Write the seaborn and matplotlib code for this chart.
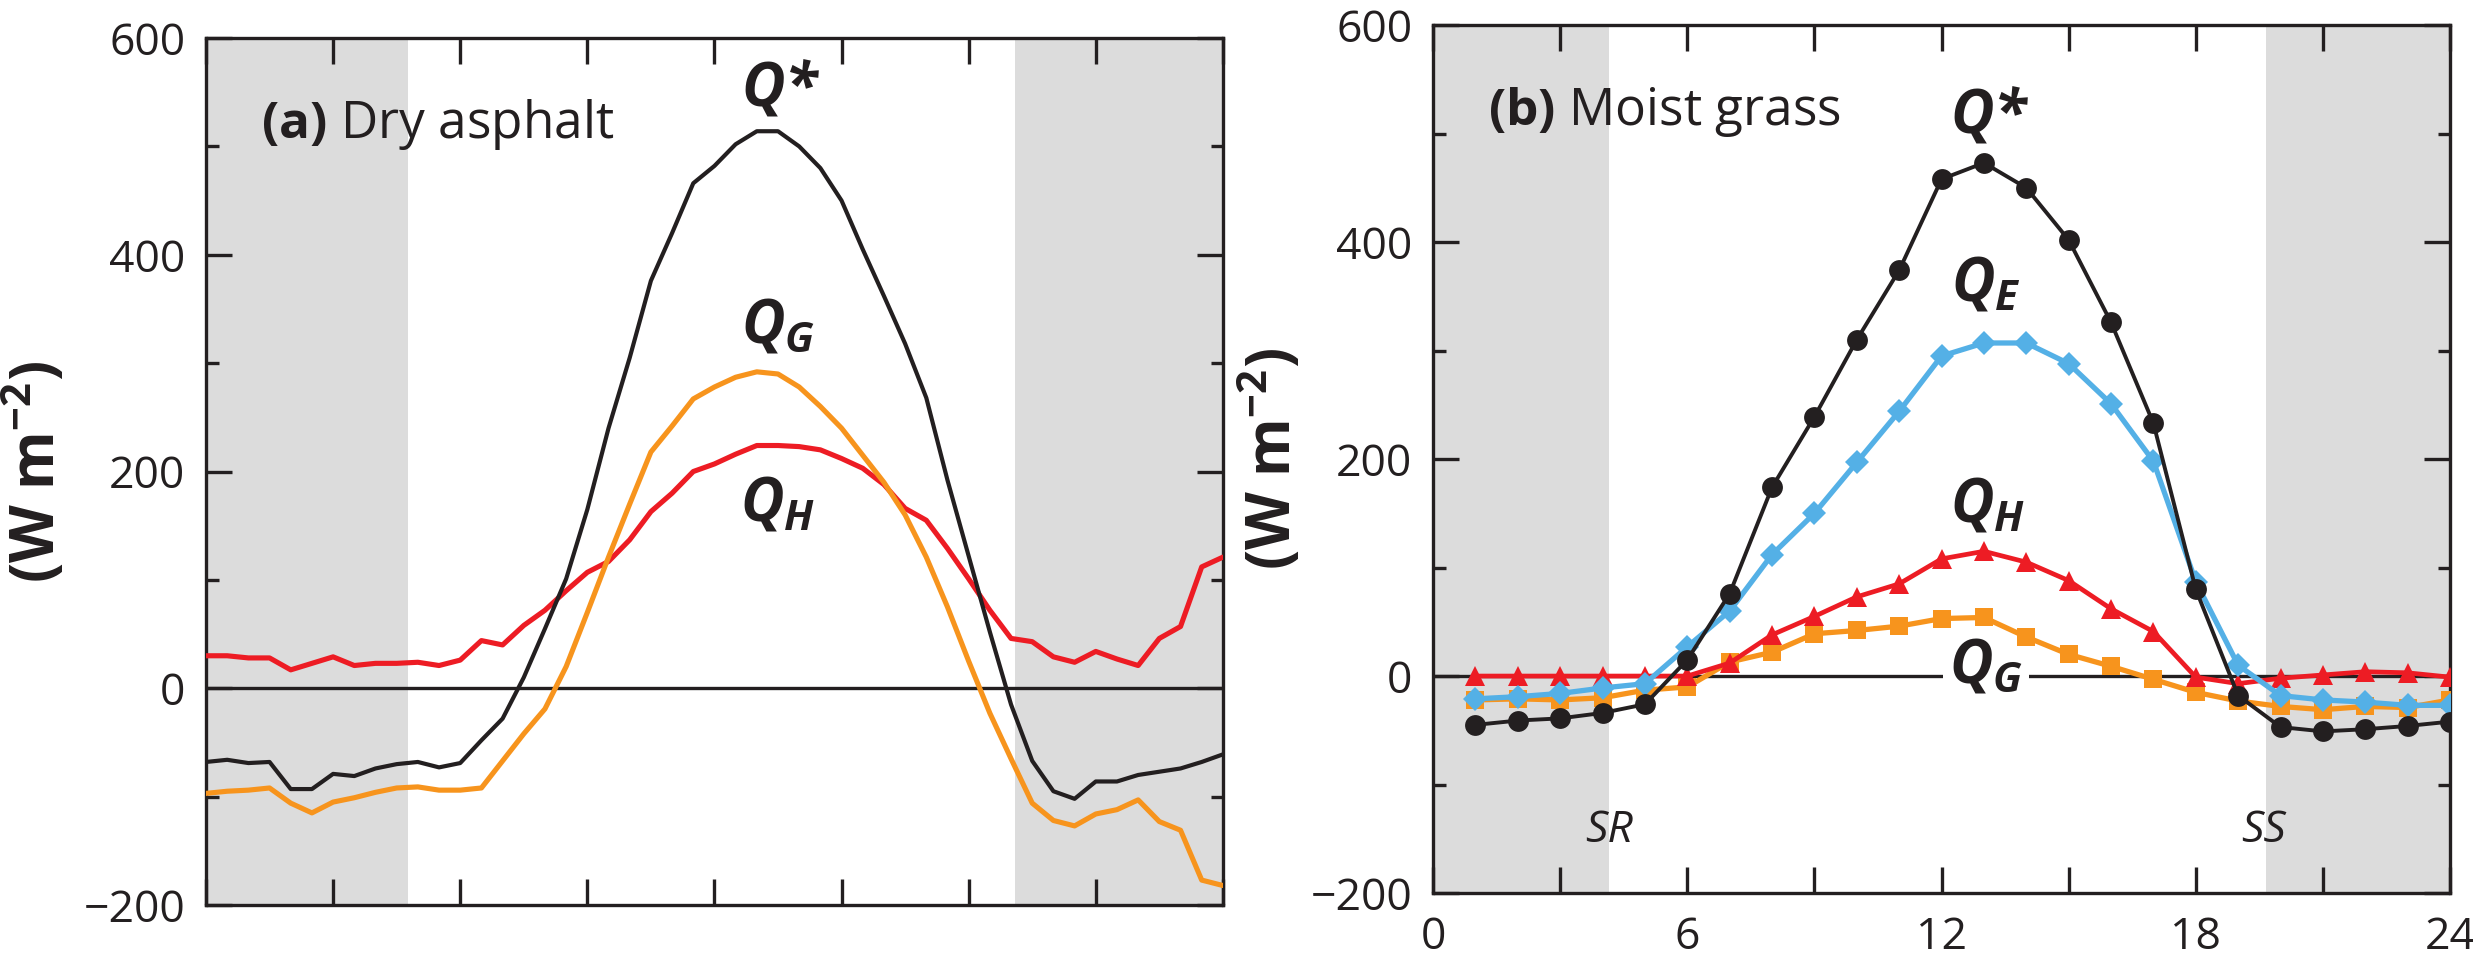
import matplotlib
matplotlib.use("Agg")
import matplotlib.pyplot as plt
import seaborn as sns
from matplotlib.ticker import MultipleLocator

# ---------------- data: panel (a) dry asphalt, half-hourly ----------------
hours_a = [0, 0.5, 1, 1.5, 2, 2.5, 3, 3.5, 4, 4.5, 5, 5.5, 6, 6.5, 7, 7.5, 8, 8.5,
           9, 9.5, 10, 10.5, 11, 11.5, 12, 12.5, 13, 13.5, 14, 14.5, 15, 15.5, 16,
           16.5, 17, 17.5, 18, 18.5, 19, 19.5, 20, 20.5, 21, 21.5, 22, 22.5, 23,
           23.5, 24]
qstar_a = [-68, -66, -69, -68, -93, -93, -79, -81, -74, -70, -68, -73, -69, -48,
           -28, 10, 55, 101, 165, 240, 305, 376, 420, 466, 482, 502, 514, 514,
           500, 480, 450, 405, 362, 318, 268, 192, 122, 52, -15, -67, -95, -102,
           -86, -86, -80, -77, -74, -68, -61]
qg_a = [-97, -95, -94, -92, -106, -115, -105, -101, -96, -92, -91, -94, -94, -92,
        -67, -42, -19, 20, 70, 121, 170, 218, 242, 267, 278, 287, 292, 290, 278,
        260, 240, 215, 190, 160, 121, 75, 25, -23, -65, -106, -122, -127, -116,
        -112, -103, -123, -131, -177, -182]
qh_a = [30, 30, 28, 28, 17, 23, 29, 21, 23, 23, 24, 21, 26, 44, 40, 58, 72, 90,
        107, 117, 137, 163, 180, 200, 207, 216, 224, 224, 223, 220, 212, 203, 188,
        166, 155, 129, 101, 72, 46, 43, 29, 24, 34, 27, 21, 46, 57, 112, 121]
night_a = [(0, 4.77), (19.1, 24)]

# ---------------- data: panel (b) moist grass, hourly ----------------
hours_b = [1, 2, 3, 4, 5, 6, 7, 8, 9, 10, 11, 12, 13, 14, 15, 16, 17, 18, 19, 20,
           21, 22, 23, 24]
qstar_b = [-45, -41, -39, -34, -26, 15, 76, 174, 239, 310, 374, 458, 473, 450,
           402, 326, 233, 80, -18, -47, -51, -49, -46, -42]
qe_b = [-21, -19, -16, -11, -7, 27, 60, 112, 150, 197, 244, 295, 307, 307, 288,
        251, 198, 87, 10, -18, -22, -24, -27, -27]
qh_b = [0, 0, 0, 0, 0, 0, 12, 38, 55, 73, 85, 108, 115, 105, 88, 62, 41, -1, -7,
        -2, 1, 4, 3, -1]
qg_b = [-22, -21, -22, -20, -13, -10, 13, 22, 39, 42, 46, 53, 54, 36, 20, 9, -3,
        -15, -23, -28, -31, -28, -29, -22]
night_b = [(0, 4.15), (19.66, 24)]

xticks = [0, 3, 6, 9, 12, 15, 18, 21, 24]
xticklabels_b = ["0", "", "6", "", "12", "", "18", "", "24"]
yticks = [-200, 0, 200, 400, 600]

BLACK = "#231F20"
RED = "#ED1C24"
ORANGE = "#F7941D"
BLUE = "#54B0E6"
GRAY = "#DCDCDC"

sns.set_style("ticks")
plt.rcParams["font.family"] = ["Open Sans", "DejaVu Sans"]
plt.rcParams["mathtext.fontset"] = "custom"
plt.rcParams["mathtext.rm"] = "Open Sans"
plt.rcParams["mathtext.it"] = "Open Sans:italic:bold"
plt.rcParams["mathtext.bf"] = "Open Sans:bold"
plt.rcParams["axes.unicode_minus"] = True

fig = plt.figure(figsize=(24.73, 9.58), dpi=100)
axa = fig.add_axes([0.0833, 0.0553, 0.4112, 0.905])
axb = fig.add_axes([0.5795, 0.0678, 0.4112, 0.906])

QSIZE = 43


def style_axis(ax, labels):
    ax.set_xlim(0, 24)
    ax.set_ylim(-200, 600)
    ax.set_xticks(xticks)
    ax.set_yticks(yticks)
    ax.yaxis.set_minor_locator(MultipleLocator(100))
    if labels is None:
        ax.tick_params(axis="x", labelbottom=False)
    else:
        ax.set_xticklabels(labels)
    ax.tick_params(which="both", direction="in", top=True, right=True,
                   width=2.4, color=BLACK, labelsize=32, labelcolor=BLACK)
    ax.tick_params(which="major", length=19)
    ax.tick_params(which="minor", length=9)
    ax.tick_params(axis="y", pad=15)
    ax.tick_params(axis="x", pad=16)
    for s in ax.spines.values():
        s.set_linewidth(2.4)
        s.set_color(BLACK)
        s.set_visible(True)
    ax.axhline(0, color=BLACK, lw=2.4, zorder=1.5)
    ax.set_ylabel("(W m$^{\\mathbf{-2}}$)", fontsize=43, fontweight="bold",
                  color=BLACK)
    ax.set_xlabel("")


# ---------------- panel (a) ----------------
for x0, x1 in night_a:
    axa.axvspan(x0, x1, color=GRAY, lw=0, zorder=0)
sns.lineplot(x=hours_a, y=qh_a, ax=axa, color=RED, lw=3.7, zorder=3)
sns.lineplot(x=hours_a, y=qg_a, ax=axa, color=ORANGE, lw=3.7, zorder=3)
sns.lineplot(x=hours_a, y=qstar_a, ax=axa, color=BLACK, lw=3.0, zorder=4)
style_axis(axa, None)
axa.yaxis.set_label_coords(-0.134, 0.5)

axa.text(0.054, 0.885, "$\\mathbf{(a)}$ Dry asphalt", transform=axa.transAxes,
         fontsize=37, ha="left", va="baseline", color=BLACK)
axa.text(13.57, 538, "$Q$*", fontsize=QSIZE, fontweight="bold",
         fontstyle="italic", ha="center", va="baseline", color=BLACK, zorder=6)
axa.text(13.5, 319, "$Q_{G}$", fontsize=QSIZE, ha="center", va="baseline",
         color=BLACK, zorder=6)
axa.text(13.5, 155, "$Q_{H}$", fontsize=QSIZE, ha="center", va="baseline",
         color=BLACK, zorder=6)

# ---------------- panel (b) ----------------
for x0, x1 in night_b:
    axb.axvspan(x0, x1, color=GRAY, lw=0, zorder=0)
sns.lineplot(x=hours_b, y=qg_b, ax=axb, color=ORANGE, lw=3.8, marker="s",
             markersize=13, markeredgewidth=0, zorder=3)
sns.lineplot(x=hours_b, y=qh_b, ax=axb, color=RED, lw=3.4, marker="^",
             markersize=15, markeredgewidth=0, zorder=3.2)
sns.lineplot(x=hours_b, y=qe_b, ax=axb, color=BLUE, lw=3.8, marker="D",
             markersize=12, markeredgewidth=0, zorder=3.4)
sns.lineplot(x=hours_b, y=qstar_b, ax=axb, color=BLACK, lw=2.8, marker="o",
             markersize=15, markeredgewidth=0, zorder=3.6)
style_axis(axb, xticklabels_b)
axb.yaxis.set_label_coords(-0.125, 0.5)

axb.text(0.054, 0.885, "$\\mathbf{(b)}$ Moist grass", transform=axb.transAxes,
         fontsize=37, ha="left", va="baseline", color=BLACK)
axb.text(13.14, 501, "$Q$*", fontsize=QSIZE, fontweight="bold",
         fontstyle="italic", ha="center", va="baseline", color=BLACK, zorder=6)
axb.text(13.05, 346, "$Q_{E}$", fontsize=QSIZE, ha="center", va="baseline",
         color=BLACK, zorder=6)
axb.text(13.08, 142, "$Q_{H}$", fontsize=QSIZE, ha="center", va="baseline",
         color=BLACK, zorder=6)
axb.text(13.05, -6, "$Q_{G}$", fontsize=QSIZE, ha="center", va="baseline",
         color=BLACK, zorder=2,
         bbox=dict(boxstyle="square,pad=0.1", fc="white", ec="none"))
axb.text(4.15, -153, "SR", fontsize=32, fontstyle="italic", ha="center",
         va="baseline", color=BLACK)
axb.text(19.6, -153, "SS", fontsize=32, fontstyle="italic", ha="center",
         va="baseline", color=BLACK)

fig.savefig("out.png", dpi=100, facecolor="white")
